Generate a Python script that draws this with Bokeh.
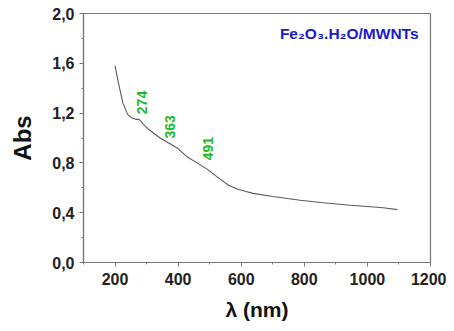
import math
from bokeh.plotting import figure
from bokeh.models import Range1d, CustomJSTickFormatter, FixedTicker, ColumnDataSource
from bokeh.core.properties import value
from bokeh.embed import file_html
from bokeh.resources import INLINE

# spectrum
wavelength = [200, 210, 225, 240, 254, 265, 276, 290, 311, 343, 370, 397, 428, 460, 492, 533, 560, 587, 615, 638, 700, 787, 860, 946, 1000, 1050, 1095]
absorb = [1.58, 1.45, 1.28, 1.19, 1.16, 1.15, 1.15, 1.11, 1.06, 1.00, 0.96, 0.92, 0.85, 0.80, 0.75, 0.67, 0.62, 0.59, 0.57, 0.555, 0.53, 0.50, 0.48, 0.46, 0.45, 0.44, 0.425]

peak_labels = ["274", "363", "491"]
peak_x = [286, 375, 495]
peak_y = [1.285, 1.09, 0.915]

x_ticks = [200, 400, 600, 800, 1000, 1200]
y_ticks = [0.0, 0.4, 0.8, 1.2, 1.6, 2.0]

FONT = "Liberation Sans"

p = figure(width=446, height=325, output_backend="svg", toolbar_location=None,
           x_range=Range1d(100, 1200), y_range=Range1d(0, 2.0),
           min_border_left=83, min_border_right=16, min_border_top=13, min_border_bottom=63)
p.grid.visible = False
p.outline_line_color = "#777777"
p.outline_line_width = 1.2

p.line(wavelength, absorb, line_color="#5a5a5a", line_width=1.1)

src = ColumnDataSource(dict(x=peak_x, y=peak_y, t=peak_labels))
p.text(x="x", y="y", text="t", source=src, angle=math.pi / 2,
       text_align="center", text_baseline="middle", text_color="#22bb22",
       text_font=value(FONT), text_font_size="14px", text_font_style="bold")

p.text(x=[1162], y=[1.84], text=["Fe\u2082O\u2083.H\u2082O/MWNTs"], text_align="right",
       text_baseline="middle", text_color="#1a1acc", text_font=value(FONT),
       text_font_size="15.5px", text_font_style="bold")

for ax in (p.xaxis[0], p.yaxis[0]):
    ax.axis_line_color = "#777777"
    ax.axis_line_width = 1.2
    ax.major_tick_line_color = "#777777"
    ax.minor_tick_line_color = "#777777"
    ax.major_tick_in = 0
    ax.major_tick_out = 4
    ax.minor_tick_in = 0
    ax.minor_tick_out = 2
    ax.major_label_text_font = FONT
    ax.major_label_text_font_style = "bold"
    ax.major_label_text_font_size = "16px"
    ax.major_label_text_color = "#222222"
    ax.axis_label_text_font = FONT
    ax.axis_label_text_font_style = "bold"
    ax.axis_label_text_color = "#111111"

p.xaxis.ticker = FixedTicker(ticks=x_ticks, minor_ticks=[100, 300, 500, 700, 900, 1100])
p.yaxis.ticker = FixedTicker(ticks=y_ticks, minor_ticks=[0.2, 0.6, 1.0, 1.4, 1.8])
p.yaxis.formatter = CustomJSTickFormatter(code="return tick.toFixed(1).replace('.', ',');")
p.xaxis.axis_label = "\u03bb (nm)"
p.yaxis.axis_label = "Abs"
p.xaxis.axis_label_text_font_size = "21px"
p.yaxis.axis_label_text_font_size = "24px"
p.xaxis.axis_label_standoff = 10
p.yaxis.axis_label_standoff = 13
p.xaxis.major_label_standoff = 6
p.yaxis.major_label_standoff = 5

open("out.html", "w").write(file_html(p, INLINE))
